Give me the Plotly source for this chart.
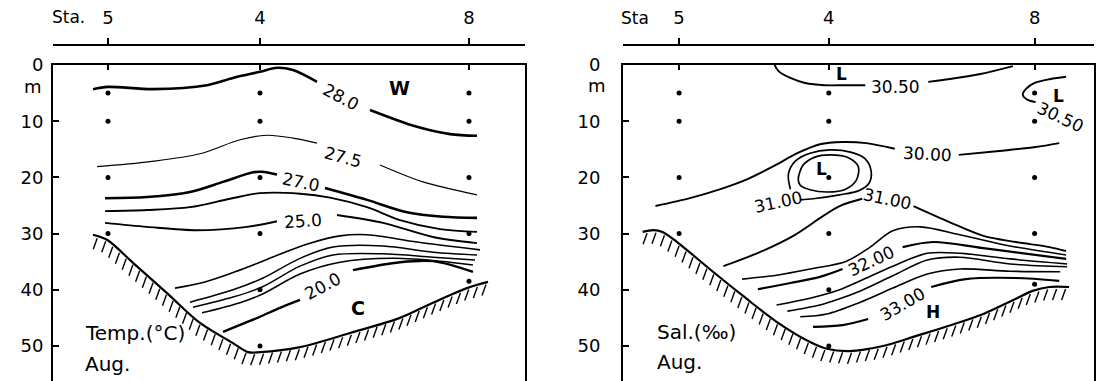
import numpy as np
import plotly.graph_objects as go

# ---------------- axes / stations ----------------
stations = [0.0, 15.2, 36.1]
station_labels = ["5", "4", "8"]
depth_ticks = [0, 10, 20, 30, 40, 50]
depth_tick_labels = ["0", "10", "20", "30", "40", "50"]

# sampling depths (dots) at each station
st5_depths = [5, 10, 20, 30]
st4_depths = [5, 10, 20, 30, 40, 50]
st8_depths_t = [5, 10, 20, 30, 38.5]
st8_depths_s = [5, 10, 20, 30, 39]

# ---------------- Temperature panel ----------------
t280_x = [-1.5, 0.0, 4.5, 9.9, 12.5, 15.2, 16.9, 18.5, 20.9, None, 26.2, 30.9, 34.2, 36.9]
t280_d = [4.3, 3.9, 4.3, 3.6, 2.3, 1.2, 0.5, 0.9, 3.0, None, 8.0, 11.0, 12.3, 12.6]
t275_x = [-1.1, 4.2, 9.2, 13.2, 15.9, 18.5, 20.9, None, 27.2, 31.5, 36.9]
t275_d = [18.1, 17.2, 15.8, 13.3, 12.5, 13.0, 13.9, None, 17.8, 20.8, 23.1]
t270_x = [-0.3, 3.9, 8.2, 11.5, 14.5, 15.4, 16.9, None, 21.7, 25.9, 29.9, 33.5, 36.9]
t270_d = [23.7, 23.5, 22.6, 20.8, 19.1, 19.0, 19.5, None, 21.9, 24.0, 26.2, 27.0, 27.2]
t260_x = [-0.3, 3.9, 8.2, 12.2, 15.2, 19.2, 22.2, 25.9, 29.2, 33.2, 36.9]
t260_d = [26.0, 25.8, 25.3, 23.8, 22.8, 22.9, 23.6, 25.3, 27.6, 29.2, 29.7]
t250_x = [-0.3, 3.9, 8.9, 13.9, 16.9, None, 22.9, 27.5, 32.5, 36.9]
t250_d = [28.1, 28.8, 29.4, 28.8, 27.8, None, 26.7, 28.1, 30.6, 31.7]
t_b1_x = [6.7, 9.7, 12.7, 15.2, 17.7, 20.2, 23.2, 25.9, 30.9, 37.2]
t_b1_d = [39.7, 38.6, 36.8, 35.1, 33.3, 31.7, 30.4, 30.2, 31.5, 32.9]
t_b2_x = [8.2, 12.5, 15.4, 19.2, 22.5, 27.5, 32.5, 36.9]
t_b2_d = [42.2, 40.0, 38.0, 34.4, 32.4, 32.2, 33.3, 33.8]
t_b3_x = [8.5, 12.5, 15.4, 19.2, 22.5, 27.5, 32.5, 36.7]
t_b3_d = [43.1, 41.3, 39.5, 35.8, 33.8, 33.6, 34.2, 34.7]
t_b4_x = [9.4, 13.2, 15.4, 19.2, 23.2, 28.5, 33.2, 36.5]
t_b4_d = [44.1, 42.3, 40.8, 37.2, 35.1, 34.4, 34.9, 35.6]
t200_x = [11.5, 13.7, 15.2, 17.2, 19.2, None, 24.5, 29.2, 32.5, 36.5]
t200_d = [47.5, 45.9, 44.8, 43.2, 41.8, None, 36.5, 35.1, 34.9, 36.8]
t_bottom_x = [-1.5, -0.1, 2.5, 5.9, 9.2, 12.5, 14.0, 15.2, 19.2, 24.2, 29.2, 32.5, 35.9, 38.0]
t_bottom_d = [30.2, 31.1, 35.2, 40.6, 45.9, 49.5, 51.1, 51.1, 50.2, 47.7, 45.0, 42.3, 39.7, 38.6]

t_labels = ["28.0", "27.5", "27.0", "25.0", "20.0"]
t_label_x = [23.3, 23.5, 19.3, 19.5, 21.5]
t_label_d = [5.7, 16.4, 20.8, 27.8, 39.4]
t_label_angle = [28, 15, 12, -4, -28]

# ---------------- Salinity panel ----------------
s3050a_x = [9.7, 10.1, 11.3, 12.8, 14.8, 16.9, 18.9, None, 25.3, 27.5, 30.6, 33.9]
s3050a_d = [0.0, 1.1, 2.3, 3.2, 3.6, 3.6, 3.6, None, 3.0, 2.5, 1.6, 0.2]
s3050b_x = [39.3, 37.7, 36.1, 35.2, 34.9, 35.4, 36.2]
s3050b_d = [2.1, 2.5, 3.2, 4.3, 5.3, 6.2, 6.6]
s3000_x = [-2.4, 1.1, 4.2, 6.7, 9.5, 12.0, 14.3, 16.6, 19.0, 21.9, None, 28.4, 32.5, 36.2, 38.6]
s3000_d = [25.1, 23.7, 22.1, 20.5, 18.1, 15.7, 14.1, 13.7, 13.9, 14.9, None, 16.0, 15.3, 14.6, 13.9]
s_core_x = [12.1, 12.6, 13.8, 15.3, 17.2, 18.2, 18.0, 16.9, 15.1, 13.3, 12.3, 12.1]
s_core_d = [20.3, 17.8, 16.4, 16.0, 16.5, 18.1, 20.5, 22.1, 22.6, 22.2, 21.4, 20.3]
s3100loop_x = [11.3, 11.1, 11.8, 13.3, 15.3, 17.4, 18.9, 19.5, 19.3, 18.2, 16.3, 13.6, 12.3]
s3100loop_d = [22.1, 19.4, 17.1, 15.7, 15.1, 15.5, 16.7, 18.9, 21.0, 22.4, 23.1, 23.8, 24.0]
s3100_x = [4.5, 8.2, 11.6, 14.6, 16.3, 18.6, None, 23.8, 27.4, 30.9, 34.2, 37.6, 39.3]
s3100_d = [35.8, 33.3, 30.4, 26.9, 25.1, 23.8, None, 25.1, 27.9, 30.4, 31.5, 32.4, 33.1]
s_b1_x = [6.4, 9.9, 13.3, 17.0, 19.4, 21.7, 24.5, 28.5, 33.6, 39.3]
s_b1_d = [38.1, 37.4, 36.3, 34.9, 32.4, 29.5, 28.8, 30.2, 32.2, 33.8]
s3200_x = [8.0, 11.3, 14.3, 16.6, None, 22.7, 25.8, 30.9, 39.3]
s3200_d = [39.9, 38.8, 37.7, 36.3, None, 32.4, 31.5, 32.6, 34.5]
s_b3_x = [9.9, 13.3, 16.3, 18.4, 21.7, 25.2, 28.5, 33.6, 39.4]
s_b3_d = [42.7, 41.5, 40.0, 38.4, 35.8, 33.5, 33.5, 34.5, 35.4]
s_b4_x = [11.0, 14.3, 16.3, 18.4, 21.7, 25.2, 28.5, 33.6, 39.4]
s_b4_d = [43.8, 42.7, 41.6, 40.2, 37.5, 34.7, 34.2, 35.4, 35.9]
s_b5_x = [12.3, 15.0, 18.4, 21.7, 25.2, 28.5, 33.6, 38.7]
s_b5_d = [44.8, 44.3, 42.2, 39.7, 37.2, 36.3, 36.7, 36.8]
s3300_x = [13.6, 16.6, 19.2, None, 25.6, 29.1, 34.2, 38.6]
s3300_d = [46.6, 46.3, 45.2, None, 39.5, 38.1, 37.9, 38.4]
s_bottom_x = [-3.7, -2.6, -1.7, -0.2, 3.1, 6.5, 9.9, 13.3, 15.0, 17.3, 20.7, 24.1, 27.4, 30.9, 34.2, 35.9, 37.6, 39.6]
s_bottom_d = [29.7, 29.4, 29.7, 31.5, 36.3, 41.1, 45.7, 49.3, 50.5, 50.9, 50.0, 48.2, 46.4, 44.3, 41.6, 40.2, 39.5, 39.5]

s_labels = ["30.50", "30.50", "30.00", "31.00", "31.00", "32.00", "33.00"]
s_label_x = [22.0, 38.7, 25.2, 10.1, 21.2, 19.5, 22.7]
s_label_d = [3.9, 9.3, 15.8, 24.4, 23.8, 34.9, 42.5]
s_label_angle = [0, 25, 3, -12, 12, -25, -30]

# water-mass letters
t_marks = ["W", "C"]
t_mark_x = [29.2, 25.0]
t_mark_d = [4.1, 43.2]
s_marks = ["L", "L", "L", "H"]
s_mark_x = [16.5, 38.5, 14.5, 25.8]
s_mark_d = [1.6, 5.5, 18.5, 44.0]

# ---------------- figure ----------------
FONT = "DejaVu Sans"
PX_PER_M = 5.62
fig = go.Figure()


def add_line(x, d, xa, ya, width):
    fig.add_trace(go.Scatter(
        x=x, y=d, xaxis=xa, yaxis=ya, mode="lines",
        line=dict(color="black", width=width, shape="spline", smoothing=0.9),
        hoverinfo="skip", showlegend=False))


def hatch(bx, bd, ppx, step=9.0, dxp=-4.0, top=2.0, length=11.0):
    X = np.array(bx) * ppx
    Y = np.array(bd) * PX_PER_M
    s = np.concatenate([[0.0], np.cumsum(np.hypot(np.diff(X), np.diff(Y)))])
    ss = np.arange(step / 2, s[-1], step)
    xs = np.interp(ss, s, X)
    ys = np.interp(ss, s, Y)
    hx, hy = [], []
    for a, b in zip(xs, ys):
        hx += [a / ppx, (a + dxp) / ppx, None]
        hy += [(b + top) / PX_PER_M, (b + top + length) / PX_PER_M, None]
    return hx, hy


# temperature
add_line(t280_x, t280_d, "x", "y", 2.6)
add_line(t275_x, t275_d, "x", "y", 1.2)
add_line(t270_x, t270_d, "x", "y", 2.6)
add_line(t260_x, t260_d, "x", "y", 1.9)
add_line(t250_x, t250_d, "x", "y", 1.9)
add_line(t_b1_x, t_b1_d, "x", "y", 1.6)
add_line(t_b2_x, t_b2_d, "x", "y", 1.5)
add_line(t_b3_x, t_b3_d, "x", "y", 1.5)
add_line(t_b4_x, t_b4_d, "x", "y", 1.5)
add_line(t200_x, t200_d, "x", "y", 2.4)
add_line(t_bottom_x, t_bottom_d, "x", "y", 2.2)
hx, hy = hatch(t_bottom_x, t_bottom_d, 10.0)
fig.add_trace(go.Scatter(x=hx, y=hy, xaxis="x", yaxis="y", mode="lines",
                         line=dict(color="black", width=1.4), hoverinfo="skip", showlegend=False))

# salinity
add_line(s3050a_x, s3050a_d, "x2", "y2", 1.9)
add_line(s3050b_x, s3050b_d, "x2", "y2", 1.9)
add_line(s3000_x, s3000_d, "x2", "y2", 1.9)
add_line(s_core_x, s_core_d, "x2", "y2", 1.7)
add_line(s3100loop_x, s3100loop_d, "x2", "y2", 1.7)
add_line(s3100_x, s3100_d, "x2", "y2", 1.9)
add_line(s_b1_x, s_b1_d, "x2", "y2", 1.6)
add_line(s3200_x, s3200_d, "x2", "y2", 2.2)
add_line(s_b3_x, s_b3_d, "x2", "y2", 1.6)
add_line(s_b4_x, s_b4_d, "x2", "y2", 1.6)
add_line(s_b5_x, s_b5_d, "x2", "y2", 1.6)
add_line(s3300_x, s3300_d, "x2", "y2", 2.2)
add_line(s_bottom_x, s_bottom_d, "x2", "y2", 2.2)
hx, hy = hatch(s_bottom_x, s_bottom_d, 9.85)
fig.add_trace(go.Scatter(x=hx, y=hy, xaxis="x2", yaxis="y2", mode="lines",
                         line=dict(color="black", width=1.4), hoverinfo="skip", showlegend=False))

# sampling dots (plotted on the station axes)
for xa, ya, st8 in (("x3", "y", st8_depths_t), ("x4", "y2", st8_depths_s)):
    dx = [stations[0]] * len(st5_depths) + [stations[1]] * len(st4_depths) + [stations[2]] * len(st8)
    dy = st5_depths + st4_depths + st8
    fig.add_trace(go.Scatter(x=dx, y=dy, xaxis=xa, yaxis=ya, mode="markers",
                             marker=dict(color="black", size=5), hoverinfo="skip", showlegend=False))

ann = []
for txt, x, d, a in zip(t_labels, t_label_x, t_label_d, t_label_angle):
    ann.append(dict(text=txt, x=x, y=d, xref="x", yref="y", textangle=a, showarrow=False,
                    font=dict(family=FONT, size=17, color="black")))
for txt, x, d, a in zip(s_labels, s_label_x, s_label_d, s_label_angle):
    ann.append(dict(text=txt, x=x, y=d, xref="x2", yref="y2", textangle=a, showarrow=False,
                    font=dict(family=FONT, size=17, color="black")))
for txt, x, d in zip(t_marks, t_mark_x, t_mark_d):
    ann.append(dict(text="<b>%s</b>" % txt, x=x, y=d, xref="x", yref="y", showarrow=False,
                    font=dict(family=FONT, size=19, color="black")))
for txt, x, d in zip(s_marks, s_mark_x, s_mark_d):
    ann.append(dict(text="<b>%s</b>" % txt, x=x, y=d, xref="x2", yref="y2", showarrow=False,
                    font=dict(family=FONT, size=17, color="black")))

# panel captions
cap_font = dict(family=FONT, size=20, color="black")
ann += [
    dict(text="Temp.(°C)", x=-2.5, y=47.7, xref="x", yref="y", xanchor="left", showarrow=False, font=cap_font),
    dict(text="Aug.", x=-2.5, y=53.2, xref="x", yref="y", xanchor="left", showarrow=False, font=cap_font),
    dict(text="Sal.(‰)", x=-2.4, y=47.5, xref="x2", yref="y2", xanchor="left", showarrow=False, font=cap_font),
    dict(text="Aug.", x=-2.4, y=52.8, xref="x2", yref="y2", xanchor="left", showarrow=False, font=cap_font),
    dict(text="Sta.", x=-4.0, y=1.083, xref="x", yref="paper", xanchor="center", yanchor="middle",
         showarrow=False, font=dict(family=FONT, size=17, color="black")),
    dict(text="Sta", x=-4.5, y=1.08, xref="x2", yref="paper", xanchor="center", yanchor="middle",
         showarrow=False, font=dict(family=FONT, size=17, color="black")),
    dict(text="m", x=-0.0192, y=3.8, xref="paper", yref="y", xanchor="center", yanchor="middle",
         showarrow=False, font=dict(family=FONT, size=18, color="black")),
    dict(text="m", x=0.5226, y=3.7, xref="paper", yref="y2", xanchor="center", yanchor="middle",
         showarrow=False, font=dict(family=FONT, size=18, color="black")),
]

XR1 = [-5.5, 41.7]
XR2 = [-5.69, 42.13]
YR = [56.23, 0]
YDOM = [0, 0.9405]
common_x = dict(side="top", showline=True, linecolor="black", linewidth=2, ticks="inside",
                tickvals=stations, ticklen=5, tickwidth=1.5, tickcolor="black",
                showticklabels=False, showgrid=False, zeroline=False)
common_y = dict(domain=YDOM, range=YR, showline=True, mirror=True, linecolor="black", linewidth=2,
                ticks="inside", tickvals=depth_ticks, ticktext=depth_tick_labels, ticklen=6,
                tickwidth=1.5, tickcolor="black", showgrid=False, zeroline=False,
                tickfont=dict(family=FONT, size=18, color="black"))
station_x = dict(anchor="free", position=1.0, side="top", showline=True, linecolor="black",
                 linewidth=1.5, ticks="outside", ticklen=6, tickwidth=1.5, tickcolor="black",
                 tickvals=stations, ticktext=station_labels, showgrid=False, zeroline=False,
                 tickfont=dict(family=FONT, size=18, color="black"), ticklabelstandoff=7)

fig.update_layout(
    width=1096, height=381,
    margin=dict(l=53, r=2, t=45, b=0),
    paper_bgcolor="white", plot_bgcolor="white",
    font=dict(family=FONT, color="black", size=16),
    showlegend=False,
    xaxis=dict(domain=[0, 0.4534], range=XR1, anchor="y", **common_x),
    yaxis=dict(anchor="x", ticklabelstandoff=4, **common_y),
    xaxis2=dict(domain=[0.5476, 1.0], range=XR2, anchor="y2", **common_x),
    yaxis2=dict(anchor="x2", ticklabelstandoff=17, **common_y),
    xaxis3=dict(overlaying="x", range=XR1, **station_x),
    xaxis4=dict(overlaying="x2", range=XR2, **station_x),
    annotations=ann,
)

fig.write_html("out.html")
